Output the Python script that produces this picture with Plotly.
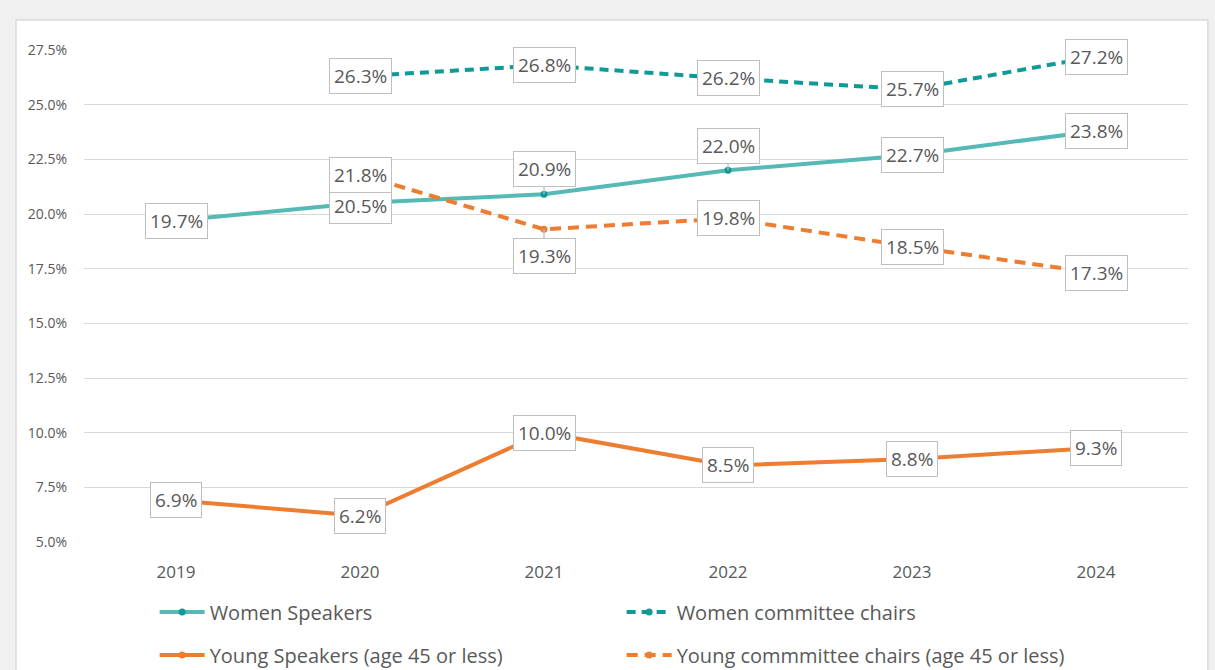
import plotly.graph_objects as go

years = ["2019", "2020", "2021", "2022", "2023", "2024"]
women_speakers = [19.7, 20.5, 20.9, 22.0, 22.7, 23.8]
women_chairs = [None, 26.3, 26.8, 26.2, 25.7, 27.2]
young_speakers = [6.9, 6.2, 10.0, 8.5, 8.8, 9.3]
young_chairs = [None, 21.8, 19.3, 19.8, 18.5, 17.3]
y_ticks = [5.0, 7.5, 10.0, 12.5, 15.0, 17.5, 20.0, 22.5, 25.0, 27.5]

TEAL_LIGHT = "#55B9B5"
TEAL_DARK = "#0E9A96"
ORANGE = "#ED7D31"
GREY_TXT = "#595959"
FONT = "Open Sans"

fig = go.Figure()
fig.add_trace(go.Scatter(x=years, y=women_speakers, name="Women Speakers", mode="lines+markers",
                         line=dict(color=TEAL_LIGHT, width=4),
                         marker=dict(color=TEAL_DARK, size=7), legend="legend"))
fig.add_trace(go.Scatter(x=years, y=women_chairs, name="Women committee chairs", mode="lines+markers",
                         line=dict(color=TEAL_DARK, width=4, dash="9px,6px"),
                         marker=dict(color=TEAL_DARK, size=7), legend="legend"))
fig.add_trace(go.Scatter(x=years, y=young_speakers, name="Young Speakers (age 45 or less)", mode="lines+markers",
                         line=dict(color=ORANGE, width=4),
                         marker=dict(color=ORANGE, size=7), legend="legend2"))
fig.add_trace(go.Scatter(x=years, y=young_chairs, name="Young commmittee chairs (age 45 or less)", mode="lines+markers",
                         line=dict(color=ORANGE, width=4, dash="11px,7px"),
                         marker=dict(color=ORANGE, size=7), legend="legend2"))

# label placement: (series, index) -> ay offset in px for callouts
callouts = {("ws", 2): -25, ("ws", 3): -24, ("yc", 2): 27}
shifts = {("ws", 1): -3}

series = {"ws": women_speakers, "wc": women_chairs, "ys": young_speakers, "yc": young_chairs}
for key, vals in series.items():
    for i, v in enumerate(vals):
        if v is None:
            continue
        common = dict(x=i, y=v, xref="x", yref="y", text=f"{v:.1f}%",
                      font=dict(family=FONT, size=19, color=GREY_TXT),
                      bgcolor="white", bordercolor="#BFBFBF", borderwidth=1, borderpad=4)
        if (key, i) in callouts:
            fig.add_annotation(**common, showarrow=True, ax=0, ay=callouts[(key, i)],
                               arrowhead=0, arrowcolor="#BFBFBF", arrowwidth=1.3)
        else:
            fig.add_annotation(**common, showarrow=False, yshift=shifts.get((key, i), 0))

fig.update_layout(
    width=1215, height=670,
    margin=dict(l=84, r=27, t=50, b=128, autoexpand=False),
    paper_bgcolor="#F0F0F0",
    plot_bgcolor="white",
    font=dict(family=FONT, color=GREY_TXT),
    shapes=[dict(type="rect", xref="paper", yref="paper", x0=-0.0616, x1=1.018,
                 y0=-0.35, y1=1.061, fillcolor="white", line=dict(color="#D9D9D9", width=1.5),
                 layer="below")],
    xaxis=dict(type="category", range=[-0.5, 5.5], showgrid=False, showline=False, zeroline=False,
               automargin=False,
               ticks="", tickfont=dict(family=FONT, size=17, color=GREY_TXT), ticklabelstandoff=18),
    yaxis=dict(range=[5, 27.5], tickvals=y_ticks, ticktext=[f"{t:.1f}%" for t in y_ticks],
               automargin=False,
               showgrid=True, gridcolor="#D9D9D9", gridwidth=1.3, zeroline=False, showline=False,
               ticks="", tickfont=dict(family=FONT, size=14, color=GREY_TXT), ticklabelstandoff=16),
    legend=dict(orientation="h", x=0.064, y=0.0866, xref="paper", yref="container",
                xanchor="left", yanchor="middle",
                entrywidth=407, entrywidthmode="pixels", bgcolor="rgba(0,0,0,0)",
                font=dict(family=FONT, size=20, color=GREY_TXT), itemwidth=45),
    legend2=dict(orientation="h", x=0.064, y=0.0224, xref="paper", yref="container",
                 xanchor="left", yanchor="middle",
                 entrywidth=407, entrywidthmode="pixels", bgcolor="rgba(0,0,0,0)",
                 font=dict(family=FONT, size=20, color=GREY_TXT), itemwidth=45),
)

fig.write_html("out.html", config={"displayModeBar": False},
               post_script="document.body.style.margin='0';")
